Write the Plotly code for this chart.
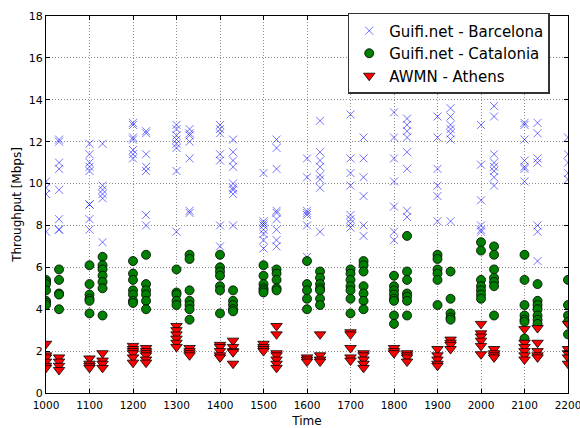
import plotly.graph_objects as go

# x positions of measurement clusters
bcn_x = [1000]*4 + [1030]*8 + [1100]*9 + [1130]*6 + [1200]*7 + [1230]*7 + [1300]*8 + [1330]*7 + \
        [1400]*7 + [1430]*9 + [1500]*8 + [1530]*9 + [1600]*7 + [1630]*8 + [1700]*8 + [1730]*6 + \
        [1800]*7 + [1830]*8 + [1900]*6 + [1930]*7 + [2000]*6 + [2030]*8 + [2100]*7 + [2130]*7 + [2200]*5
bcn_y = [10.1, 9.8, 9.5, 7.7,
         12.1, 12.0, 11.0, 10.7, 9.7, 8.3, 7.8, 7.8,
         11.9, 11.4, 11.0, 10.8, 10.6, 9.0, 8.3, 7.8, 9.0,
         11.9, 9.9, 9.7, 9.5, 9.3, 7.2,
         12.9, 12.8, 12.2, 12.1, 11.6, 11.4, 11.2,
         12.5, 12.4, 11.4, 10.8, 10.6, 8.5, 8.0,
         12.8, 12.6, 12.3, 12.1, 11.9, 11.7, 10.6, 7.7,
         12.6, 12.4, 12.3, 12.0, 11.2, 8.7, 8.6,
         12.8, 12.6, 12.4, 11.4, 11.1, 8.0, 7.0,
         12.1, 11.5, 11.1, 10.8, 10.0, 9.7, 9.5, 9.8, 8.0,
         10.5, 8.2, 8.0, 7.8, 7.6, 7.3, 6.9, 8.1,
         12.1, 11.7, 10.7, 8.7, 8.6, 8.3, 7.8, 7.3, 7.0,
         11.2, 10.3, 8.7, 8.5, 8.0, 6.5, 8.6,
         13.0, 11.5, 11.1, 10.8, 10.4, 10.2, 9.8, 7.7,
         13.3, 11.2, 10.5, 9.9, 8.5, 8.1, 7.9, 8.3,
         12.2, 11.2, 10.3, 9.4, 8.0, 7.5,
         13.4, 12.2, 11.2, 10.1, 8.9, 7.7, 7.3,
         13.1, 12.8, 12.5, 12.2, 11.5, 10.7, 8.7, 8.4,
         13.2, 12.2, 10.7, 9.9, 9.4, 8.2,
         13.6, 13.2, 12.8, 12.6, 12.4, 12.1, 8.2,
         12.8, 10.9, 9.2, 8.0, 7.8, 7.7,
         13.7, 13.2, 11.0, 10.8, 10.6, 10.3, 9.9, 11.4,
         12.8, 12.9, 12.1, 11.1, 10.8, 10.7, 10.1,
         12.9, 12.4, 11.2, 11.0, 8.0, 7.7, 6.3,
         12.2, 11.4, 11.0, 10.5, 10.2]

cat_x = [1000]*7 + [1030]*5 + [1100]*6 + [1130]*7 + [1200]*7 + [1230]*6 + [1300]*5 + [1330]*7 + \
        [1400]*7 + [1430]*5 + [1500]*6 + [1530]*5 + [1600]*5 + [1630]*7 + [1700]*7 + [1730]*7 + \
        [1800]*8 + [1830]*7 + [1900]*6 + [1930]*5 + [2000]*7 + [2030]*7 + [2100]*7 + [2130]*7 + [2200]*5
cat_y = [5.4, 5.3, 5.2, 4.9, 4.4, 4.3, 4.2,
         5.9, 5.4, 4.75, 4.7, 4.0,
         6.1, 5.2, 4.7, 4.5, 4.4, 3.8,
         6.5, 6.1, 5.9, 5.6, 5.3, 5.0, 3.7,
         6.3, 5.7, 5.4, 4.9, 4.7, 4.4, 4.3,
         6.6, 5.2, 4.9, 4.7, 4.4, 4.0,
         5.9, 4.8, 4.7, 4.4, 4.2,
         6.6, 6.4, 4.9, 4.4, 4.2, 4.0, 3.5,
         6.6, 6.0, 5.8, 5.6, 5.1, 4.9, 3.8,
         4.9, 4.4, 4.2, 4.0, 3.9,
         6.1, 5.6, 5.2, 5.0, 4.9, 4.8,
         5.9, 5.7, 5.4, 5.0, 4.9,
         6.3, 5.2, 4.9, 4.5, 4.0,
         5.8, 5.5, 5.2, 5.0, 4.9, 4.5, 4.2,
         5.9, 5.7, 5.4, 5.1, 4.9, 4.5, 3.8,
         6.3, 6.1, 5.8, 5.1, 4.75, 4.4, 4.0,
         5.6, 5.1, 4.9, 4.7, 4.5, 4.4, 3.7, 3.3,
         7.5, 5.8, 5.4, 4.75, 4.6, 4.4, 3.7,
         6.6, 6.4, 5.9, 5.7, 5.4, 4.2,
         5.8, 4.5, 3.8, 3.6, 3.5,
         7.2, 6.8, 5.4, 5.1, 4.9, 4.7, 4.5,
         7.0, 6.6, 5.9, 5.5, 5.3, 5.1, 3.7,
         6.6, 5.4, 4.2, 3.7, 3.5, 3.4, 2.6,
         5.2, 4.4, 4.2, 4.0, 3.7, 3.5, 3.3,
         5.4, 4.2, 3.7, 3.4, 2.8]

ath_x = [1000]*6 + [1030]*4 + [1100]*4 + [1130]*4 + [1200]*6 + [1230]*6 + [1300]*6 + [1330]*4 + \
        [1400]*5 + [1430]*5 + [1500]*4 + [1530]*7 + [1600]*3 + [1630]*4 + [1700]*5 + [1730]*5 + \
        [1800]*3 + [1830]*4 + [1900]*5 + [1930]*4 + [2000]*6 + [2030]*4 + [2100]*6 + [2130]*5 + [2200]*5
ath_y = [2.35, 1.8, 1.7, 1.5, 1.3, 1.2,
         1.7, 1.5, 1.3, 1.1,
         1.65, 1.4, 1.3, 1.2,
         1.9, 1.55, 1.4, 1.2,
         2.25, 2.1, 2.0, 1.9, 1.7, 1.45,
         2.15, 2.0, 1.9, 1.8, 1.6, 1.45,
         3.2, 3.0, 2.8, 2.6, 2.4, 2.2,
         2.15, 2.0, 1.9, 1.8,
         2.3, 2.2, 2.0, 1.8, 1.7,
         2.5, 2.2, 2.0, 1.95, 1.4,
         2.35, 2.2, 2.1, 2.0,
         3.2, 2.8, 1.9, 1.8, 1.6, 1.4, 1.2,
         1.7, 1.6, 1.5,
         2.8, 1.8, 1.6, 1.5,
         2.9, 2.8, 2.15, 1.7, 1.55,
         1.9, 1.8, 1.6, 1.4, 1.2,
         2.15, 2.0, 1.9,
         1.9, 1.8, 1.7, 1.5,
         2.1, 1.8, 1.6, 1.4, 1.3,
         2.55, 2.4, 2.3, 2.1,
         3.3, 2.85, 2.7, 2.5, 2.25, 1.85,
         2.1, 1.9, 1.8, 1.7,
         3.05, 2.4, 2.2, 2.0, 1.8, 1.6,
         3.1, 2.4, 2.0, 1.8, 1.7,
         3.3, 2.1, 1.9, 1.7, 1.4]

x_ticks = list(range(1000, 2201, 100))
y_ticks = list(range(0, 19, 2))

fig = go.Figure()
fig.add_trace(go.Scatter(x=bcn_x, y=bcn_y, mode="markers", name="Guifi.net - Barcelona",
                         marker=dict(symbol="x-thin-open", size=8, color="rgba(0,0,255,0.55)",
                                     line=dict(width=1, color="rgba(0,0,255,0.55)"))))
fig.add_trace(go.Scatter(x=cat_x, y=cat_y, mode="markers", name="Guifi.net - Catalonia",
                         marker=dict(symbol="circle", size=9, color="#008000",
                                     line=dict(width=0.8, color="black"))))
fig.add_trace(go.Scatter(x=ath_x, y=ath_y, mode="markers", name="AWMN - Athens",
                         marker=dict(symbol="triangle-down", size=10, color="#ff0000",
                                     line=dict(width=0.8, color="black"))))

axis_common = dict(showline=True, linecolor="black", linewidth=1, mirror="ticks",
                   ticks="inside", ticklen=4, tickcolor="black",
                   showgrid=True, gridcolor="#8c8c8c", griddash="1px,2px", gridwidth=1,
                   zeroline=False)

fig.update_layout(
    width=580, height=428,
    margin=dict(l=46, r=12, t=10, b=35),
    paper_bgcolor="white", plot_bgcolor="white",
    font=dict(family="DejaVu Sans", color="black"),
    xaxis=dict(range=[1000, 2200], tickvals=x_ticks, ticklabeloverflow="allow",
               ticklabelstandoff=2, automargin=False,
               tickfont=dict(size=10.5, color="black"),
               title=dict(text="Time", font=dict(size=12)), **axis_common),
    yaxis=dict(range=[0, 18], tickvals=y_ticks, tickfont=dict(size=11, color="black"),
               title=dict(text="Throughput [Mbps]", font=dict(size=12), standoff=4), **axis_common),
    legend=dict(x=0.965, y=1.008, xanchor="right", yanchor="top",
                bgcolor="white", bordercolor="#333333", borderwidth=1.5,
                font=dict(size=15), tracegroupgap=0, itemwidth=30),
    showlegend=True,
)

fig.write_html("out.html")
